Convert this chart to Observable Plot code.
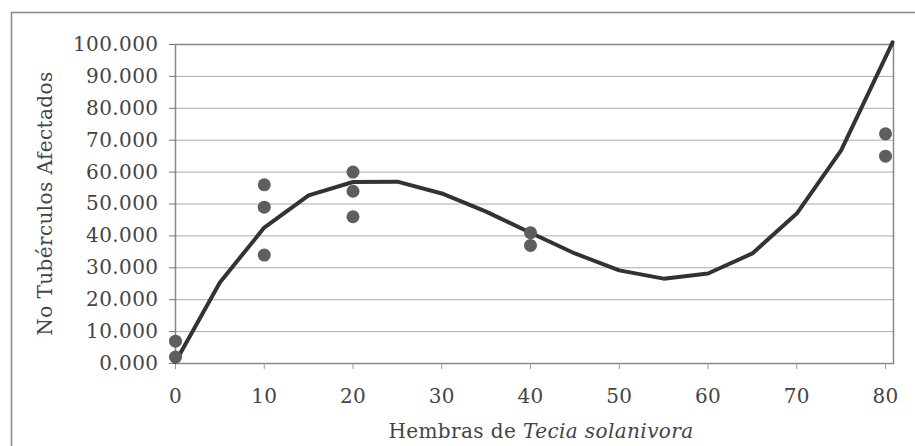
<!DOCTYPE html>
<html><head><meta charset="utf-8">
<script src="https://cdn.jsdelivr.net/npm/d3@7"></script>
<script src="https://cdn.jsdelivr.net/npm/@observablehq/plot@0.6"></script>
<style>body{margin:0;background:#fff}#chart svg{display:block}#chart svg text{letter-spacing:0.4px}</style>
</head><body><div id="chart"></div>
<script>
// Observed data (Hembras, No. tubérculos afectados)
const obsX = [0, 0, 10, 10, 10, 20, 20, 20, 40, 40, 80, 80];
const obsY = [7, 2, 56, 49, 34, 60, 54, 46, 41, 37, 72, 65];
// Fitted polynomial curve
const fitX = [0, 5, 10, 15, 20, 25, 30, 35, 40, 45, 50, 55, 60, 65, 70, 75, 80.8];
const fitY = [0.5, 25.4, 42.6, 52.7, 56.9, 57, 53.3, 47.6, 41, 34.5, 29.2, 26.6, 28.2, 34.5, 47, 66.8, 100.7];
const xTicks = [0, 10, 20, 30, 40, 50, 60, 70, 80];
const yTicks = [0, 10, 20, 30, 40, 50, 60, 70, 80, 90, 100];
const xTitle = ["Hembras de ", "Tecia solanivora"];
const yTitle = "No Tubérculos Afectados";

const obs = obsX.map((x, i) => ({x, y: obsY[i]}));
const fit = fitX.map((x, i) => ({x, y: fitY[i]}));

const W = 915, H = 446;
const plot = Plot.plot({
  width: W, height: H,
  marginLeft: 175, marginRight: 22, marginTop: 44, marginBottom: 83,
  style: {fontFamily: "'DejaVu Serif', serif", fontSize: "20px", color: "#444", background: "#fff"},
  x: {domain: [0, 80.9], ticks: xTicks, label: null},
  y: {domain: [0, 100], ticks: yTicks, label: null},
  marks: [
    Plot.gridY(yTicks, {stroke: "#aaa", strokeOpacity: 1, strokeWidth: 1}),
    Plot.frame({stroke: "#888", strokeWidth: 1.5}),
    Plot.axisY(yTicks, {tickSize: 6, tickPadding: 11, tickFormat: d3.format(".3f"), stroke: "#777", fill: "#444", fontSize: 20}),
    Plot.axisX(xTicks, {tickSize: 6, tickPadding: 19, tickFormat: d => String(d), stroke: "#999", fill: "#444", fontSize: 20}),
    Plot.line(fit, {x: "x", y: "y", stroke: "#333", strokeWidth: 4, strokeLinejoin: "round", strokeLinecap: "round"}),
    Plot.dot(obs, {x: "x", y: "y", r: 6.5, fill: "#5e5e5e", stroke: "none"})
  ]
});

const svg = d3.select(plot);
// outer chart-area border (left and top visible)
svg.insert("path", ":first-child")
  .attr("d", `M11.5,${H} V12.5 H${W}`)
  .attr("fill", "none").attr("stroke", "#888").attr("stroke-width", 1.5);

const xs = plot.scale("x"), ys = plot.scale("y");
const cx = (xs.range[0] + xs.range[1]) / 2;
const cy = (ys.range[0] + ys.range[1]) / 2;
const tx = svg.append("text")
  .attr("x", cx + 7).attr("y", 438)
  .attr("text-anchor", "middle")
  .attr("font-family", "'DejaVu Serif', serif").attr("font-size", 20).attr("fill", "#444");
tx.append("tspan").text(xTitle[0]);
tx.append("tspan").attr("font-style", "italic").text(xTitle[1]);

svg.append("text")
  .attr("transform", `translate(52,${cy}) rotate(-90)`)
  .attr("text-anchor", "middle")
  .attr("font-family", "'DejaVu Serif', serif").attr("font-size", 20).attr("fill", "#444")
  .text(yTitle);

document.getElementById("chart").append(plot);
</script>
</body></html>
